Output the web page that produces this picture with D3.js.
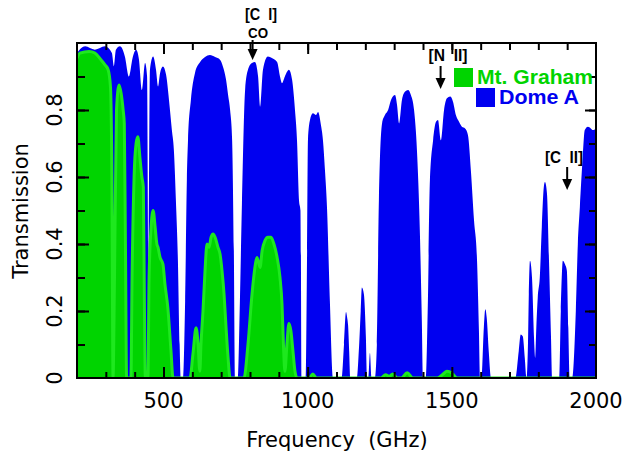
<!DOCTYPE html>
<html>
<head>
<meta charset="utf-8">
<script src="https://cdn.jsdelivr.net/npm/d3@7"></script>
<style>
  body { margin: 0; background: #fff; }
  svg { display: block; }
</style>
</head>
<body>
<div id="chart"></div>
<script>
// Dome A transmission (frequency in GHz, transmission 0-1)
var domeFreq = [200, 228, 262, 297, 321, 328, 335, 349, 366, 380, 394, 405, 415, 425, 436, 443, 448, 453, 464, 474,
    481, 488, 498, 509, 519, 529, 536, 543, 550, 556, 560, 568, 575, 581, 585, 595, 609, 627, 644, 661,
    679, 696, 706, 717, 724, 731, 738, 744, 748, 758, 765, 772, 783, 793, 807, 817, 828, 835, 845, 862,
    876, 894, 904, 911, 921, 935, 946, 956, 963, 970, 975, 980, 994, 998, 1001, 1008, 1018, 1029, 1036, 1046,
    1053, 1060, 1067, 1077, 1088, 1118, 1126, 1133, 1137, 1140, 1144, 1148, 1171, 1178, 1184, 1188, 1195, 1202, 1206, 1210,
    1216, 1222, 1233, 1240, 1247, 1258, 1268, 1279, 1289, 1303, 1310, 1317, 1327, 1338, 1348, 1358, 1369, 1379, 1389, 1396,
    1400, 1410, 1417, 1424, 1435, 1445, 1452, 1462, 1473, 1483, 1494, 1504, 1514, 1525, 1535, 1546, 1556, 1566, 1577, 1587,
    1594, 1598, 1603, 1611, 1616, 1621, 1628, 1636, 1720, 1732, 1739, 1746, 1753, 1759, 1764, 1767, 1771, 1778, 1785, 1789,
    1793, 1798, 1805, 1812, 1819, 1823, 1830, 1837, 1844, 1848, 1872, 1878, 1885, 1892, 1899, 1904, 1909, 1917, 1930, 1937,
    1944, 1954, 1961, 1972, 1982, 1989, 2000];
var domeTrans = [0.97, 0.99, 0.98, 0.99, 0.97, 0.93, 0.98, 0.99, 0.96, 0.90, 0.96, 0.98, 0.95, 0.86, 0.94, 0.90, 0.30, 0.92, 0.96, 0.92,
    0.87, 0.91, 0.93, 0.905, 0.83, 0.74, 0.68, 0.53, 0.35, 0.10, 0, 0, 0.23, 0.59, 0.71, 0.83, 0.91, 0.943, 0.958, 0.964,
    0.958, 0.95, 0.93, 0.89, 0.845, 0.80, 0.71, 0.38, 0, 0, 0.23, 0.52, 0.86, 0.92, 0.94, 0.943, 0.90, 0.81, 0.92, 0.96,
    0.955, 0.943, 0.90, 0.88, 0.90, 0.92, 0.89, 0.80, 0.71, 0.53, 0.50, 0, 0, 0.38, 0.71, 0.77, 0.79, 0.785, 0.794, 0.755,
    0.71, 0.62, 0.51, 0.23, 0, 0, 0.10, 0.197, 0.18, 0.16, 0.08, 0, 0, 0.09, 0.20, 0.27, 0.25, 0.12, 0, 0,
    0.075, 0, 0, 0.10, 0.53, 0.76, 0.785, 0.80, 0.83, 0.845, 0.815, 0.76, 0.83, 0.855, 0.86, 0.845, 0.80, 0.68, 0.44, 0.17,
    0, 0, 0.23, 0.59, 0.71, 0.765, 0.77, 0.71, 0.80, 0.835, 0.84, 0.825, 0.785, 0.765, 0.75, 0.745, 0.725, 0.62, 0.47, 0.36,
    0.14, 0, 0, 0.15, 0.205, 0.18, 0.08, 0, 0, 0.08, 0.13, 0.125, 0.06, 0, 0.10, 0.25, 0.35, 0.30, 0.12, 0.06,
    0.15, 0.24, 0.30, 0.45, 0.57, 0.585, 0.55, 0.35, 0.12, 0, 0, 0.20, 0.35, 0.34, 0.32, 0.15, 0, 0, 0.20, 0.40,
    0.51, 0.66, 0.74, 0.75, 0.745, 0.74, 0.745];

// Mt. Graham transmission
var grahamFreq = [200, 210, 242, 262, 283, 297, 308, 316, 321, 325, 330, 337, 346, 353, 360, 364, 368, 372, 387, 391,
    398, 405, 411, 418, 425, 430, 434, 437, 446, 450, 457, 464, 471, 477, 481, 488, 498, 505, 515, 526,
    533, 592, 602, 613, 620, 626, 630, 637, 644, 651, 658, 665, 672, 679, 689, 696, 703, 710, 717, 724,
    731, 779, 793, 807, 817, 824, 831, 835, 842, 852, 862, 873, 883, 894, 904, 911, 916, 921, 928, 935,
    942, 949, 956, 963, 1005, 1018, 1030, 1255, 1270, 1283, 1295, 1310, 1325, 1345, 1365, 1450, 1470, 1483, 1500, 1518,
    2000];
var grahamTrans = [0.955, 0.97, 0.975, 0.97, 0.95, 0.935, 0.92, 0.87, 0.60, 0, 0.30, 0.80, 0.875, 0.85, 0.80, 0.76, 0.40, 0, 0, 0.30,
    0.60, 0.70, 0.72, 0.66, 0.60, 0.57, 0.20, 0, 0, 0.30, 0.45, 0.50, 0.45, 0.40, 0.39, 0.36, 0.34, 0.28, 0.21, 0.08,
    0, 0, 0.07, 0.15, 0.10, 0.02, 0.10, 0.20, 0.32, 0.40, 0.39, 0.42, 0.43, 0.42, 0.39, 0.37, 0.32, 0.25, 0.15, 0.06,
    0, 0, 0.10, 0.25, 0.33, 0.36, 0.34, 0.33, 0.38, 0.41, 0.42, 0.42, 0.40, 0.36, 0.30, 0.22, 0.10, 0.02, 0.10, 0.163,
    0.14, 0.08, 0.02, 0, 0, 0.012, 0, 0, 0.01, 0.005, 0.012, 0, 0, 0.016, 0, 0, 0.012, 0.02, 0.015, 0,
    0];

var xTicks = [500, 1000, 1500, 2000];
var yTicks = [0, 0.2, 0.4, 0.6, 0.8];
var seriesNames = ["Mt. Graham", "Dome A"];
var seriesColors = ["#00d400", "#0000f0"];

// spectral lines marked with arrows
var lineLabels = ["[C I]", "[N II]", "[C II]"];
var lineSubLabels = ["CO", "", ""];
var lineFreqs = [809, 1461, 1900];

var width = 624, height = 464;
var margin = { top: 43, right: 28, bottom: 86, left: 77 };

var svg = d3.select("#chart")
    .append("svg")
    .attr("width", width)
    .attr("height", height);

var x = d3.scaleLinear()
    .domain([200, 2000])
    .range([margin.left, width - margin.right]);

var y = d3.scaleLinear()
    .domain([0, 1])
    .range([height - margin.bottom, margin.top]);

// clip so the curves stay inside the frame
svg.append("clipPath").attr("id", "plot")
    .append("rect")
    .attr("x", margin.left).attr("y", margin.top)
    .attr("width", x(2000) - x(200)).attr("height", y(0) - y(1));

var dome = domeFreq.map(function (f, i) { return [f, domeTrans[i]]; });
var graham = grahamFreq.map(function (f, i) { return [f, grahamTrans[i]]; });

var area = d3.area()
    .x(function (d) { return x(d[0]); })
    .y0(y(0))
    .y1(function (d) { return y(d[1]); })
    .curve(d3.curveMonotoneX);

var line = d3.line()
    .x(function (d) { return x(d[0]); })
    .y(function (d) { return y(d[1]); })
    .curve(d3.curveMonotoneX);

var g = svg.append("g").attr("clip-path", "url(#plot)");

g.append("path")
    .datum(dome)
    .attr("d", area)
    .attr("fill", seriesColors[1]);

g.append("path")
    .datum(graham)
    .attr("d", area)
    .attr("fill", seriesColors[0]);

g.append("path")
    .datum(graham)
    .attr("d", line)
    .attr("fill", "none")
    .attr("stroke", "#1ee81e")
    .attr("stroke-width", 3);

// ticks on all four sides, pointing inward
function addTicks(axis, scale, transform, values, size) {
    svg.append("g")
        .attr("transform", transform)
        .call(axis(scale).tickValues(values).tickSize(size).tickFormat(""))
        .call(function (s) { s.select(".domain").remove(); })
        .call(function (s) { s.selectAll(".tick line").attr("stroke", "#000").attr("stroke-width", 2); });
}

var xMinor = d3.range(300, 2000, 100);
var xMajor = [500, 1000, 1500];
var yMinor = d3.range(1, 10).map(function (d) { return d / 10; });
var yMajor = [0.2, 0.4, 0.6, 0.8];

addTicks(d3.axisTop, x, "translate(0," + y(0) + ")", xMinor, 6);
addTicks(d3.axisTop, x, "translate(0," + y(0) + ")", xMajor, 11);
addTicks(d3.axisBottom, x, "translate(0," + y(1) + ")", xMinor, 7);
addTicks(d3.axisBottom, x, "translate(0," + y(1) + ")", xMajor, 11);
addTicks(d3.axisRight, y, "translate(" + x(200) + ",0)", yMinor, 8);
addTicks(d3.axisRight, y, "translate(" + x(200) + ",0)", yMajor, 12);
addTicks(d3.axisLeft, y, "translate(" + x(2000) + ",0)", yMinor, 7);
addTicks(d3.axisLeft, y, "translate(" + x(2000) + ",0)", yMajor, 11);

// frame
svg.append("rect")
    .attr("x", x(200)).attr("y", y(1))
    .attr("width", x(2000) - x(200)).attr("height", y(0) - y(1))
    .attr("fill", "none")
    .attr("stroke", "#000")
    .attr("stroke-width", 2);

// tick labels
svg.selectAll("text.xlab")
    .data(xTicks)
    .enter()
    .append("text")
    .attr("x", function (d) { return x(d); })
    .attr("y", 408)
    .attr("text-anchor", "middle")
    .style("font-family", "DejaVu Sans")
    .style("font-size", "21px")
    .text(function (d) { return d; });

svg.selectAll("text.ylab")
    .data(yTicks)
    .enter()
    .append("text")
    .attr("transform", function (d) { return "translate(62," + y(d) + ") rotate(-90)"; })
    .attr("text-anchor", "middle")
    .style("font-family", "DejaVu Sans")
    .style("font-size", "21px")
    .text(function (d) { return d === 0 ? "0" : d.toFixed(1); });

// axis titles
svg.append("text")
    .attr("x", 337).attr("y", 447)
    .attr("text-anchor", "middle")
    .style("font-family", "DejaVu Sans")
    .style("font-size", "21px")
    .style("white-space", "pre")
    .text("Frequency  (GHz)");

svg.append("text")
    .attr("transform", "translate(28,211) rotate(-90)")
    .attr("text-anchor", "middle")
    .style("font-family", "DejaVu Sans")
    .style("font-size", "21px")
    .text("Transmission");

// legend
var legendY = [68, 88];
var legendBoxX = [454, 476];
seriesNames.forEach(function (name, i) {
    svg.append("rect")
        .attr("x", legendBoxX[i]).attr("y", legendY[i])
        .attr("width", 19).attr("height", 19)
        .attr("fill", seriesColors[i]);
    svg.append("text")
        .attr("x", legendBoxX[i] + 23).attr("y", legendY[i] + 16)
        .attr("textLength", i === 0 ? 116 : 80)
        .attr("lengthAdjust", "spacingAndGlyphs")
        .style("font-family", "Liberation Sans")
        .style("font-weight", "bold")
        .style("font-size", "20px")
        .attr("fill", seriesColors[i])
        .text(name);
});

// line markers: label, optional second label, arrow pointing down
var labelX = [261, 448, 564];
var labelBase = [20, 61, 163];
var labelLen = [32, 39, 38];
var arrowTop = [40, 66, 167];
var arrowLen = [20, 23, 23];
lineFreqs.forEach(function (f, i) {
    var cx = x(f);
    svg.append("text")
        .attr("x", labelX[i]).attr("y", labelBase[i])
        .attr("text-anchor", "middle")
        .attr("textLength", labelLen[i])
        .attr("lengthAdjust", "spacingAndGlyphs")
        .style("font-family", "Liberation Sans")
        .style("font-weight", "bold")
        .style("font-size", "16px")
        .style("white-space", "pre")
        .text(lineLabels[i].replace(" ", "  "));
    if (lineSubLabels[i]) {
        svg.append("text")
            .attr("x", labelX[i] - 3).attr("y", labelBase[i] + 18)
            .attr("text-anchor", "middle")
            .attr("textLength", 20)
            .attr("lengthAdjust", "spacingAndGlyphs")
            .style("font-family", "Liberation Sans")
            .style("font-weight", "bold")
            .style("font-size", "14px")
            .text(lineSubLabels[i]);
    }
    var tip = arrowTop[i] + arrowLen[i];
    svg.append("line")
        .attr("x1", cx).attr("x2", cx)
        .attr("y1", arrowTop[i]).attr("y2", tip - 6)
        .attr("stroke", "#000")
        .attr("stroke-width", 2);
    svg.append("path")
        .attr("d", "M" + (cx - 5) + "," + (tip - 11) + "L" + (cx + 5) + "," + (tip - 11) + "L" + cx + "," + tip + "Z")
        .attr("fill", "#000");
});
</script>
</body>
</html>
